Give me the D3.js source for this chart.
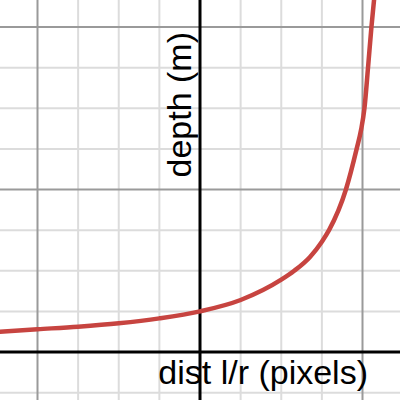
<!DOCTYPE html>
<meta charset="utf-8">
<head>
  <style>
    body { margin: 0; background: #fff; }
    .minor { stroke: #dcdcdc; stroke-width: 2px; }
    .major { stroke: #9a9a9a; stroke-width: 2px; }
    .axis-line { stroke: #000; stroke-width: 3px; }
    .label { font: 34px "Liberation Sans", Arial, sans-serif; fill: #000; }
  </style>
</head>
<body>
  <script src="https://d3js.org/d3.v7.min.js"></script>
  <div id="chart"></div>
  <script>
    var width = 400,
      height = 400;

    // curve (x: dist, y: depth), one major grid unit = 1
    var distVals = [-1.231, -1.0, -0.75, -0.5, -0.25, 0, 0.25, 0.5, 0.58, 0.677, 0.75, 0.794, 0.898, 0.964, 0.991, 1.012, 1.034, 1.055, 1.071, 1.079];
    var depthVals = [0.125, 0.140, 0.156, 0.177, 0.207, 0.25, 0.32, 0.445, 0.5, 0.585, 0.679, 0.75, 1.0, 1.25, 1.366, 1.5, 1.75, 2.0, 2.166, 2.258];

    var majorX = [-1, 0, 1];
    var majorY = [0, 1, 2];
    var minorStep = 0.25;

    var xLabel = "dist l/r (pixels)";
    var yLabel = "depth (m)";

    var unit = 162.5;
    var x = d3.scaleLinear()
      .domain([-200 / unit, 200 / unit])
      .range([0, width]);
    var y = d3.scaleLinear()
      .domain([-48 / unit, 352 / unit])
      .range([height, 0]);

    var svg = d3.select('#chart')
      .append('svg')
      .attr('width', width)
      .attr('height', height);

    var minorX = d3.range(-5, 6).map(d => d * minorStep);
    var minorY = d3.range(-1, 10).map(d => d * minorStep);

    svg.append('g').selectAll('line')
      .data(minorX.filter(d => majorX.indexOf(d) < 0))
      .enter().append('line')
      .attr('class', 'minor')
      .attr('x1', d => x(d)).attr('x2', d => x(d))
      .attr('y1', 0).attr('y2', height);

    svg.append('g').selectAll('line')
      .data(minorY.filter(d => majorY.indexOf(d) < 0))
      .enter().append('line')
      .attr('class', 'minor')
      .attr('y1', d => y(d)).attr('y2', d => y(d))
      .attr('x1', 0).attr('x2', width);

    svg.append('g').selectAll('line')
      .data(majorX.filter(d => d != 0))
      .enter().append('line')
      .attr('class', 'major')
      .attr('x1', d => x(d)).attr('x2', d => x(d))
      .attr('y1', 0).attr('y2', height);

    svg.append('g').selectAll('line')
      .data(majorY.filter(d => d != 0))
      .enter().append('line')
      .attr('class', 'major')
      .attr('y1', d => y(d)).attr('y2', d => y(d))
      .attr('x1', 0).attr('x2', width);

    // axes
    svg.append('line').attr('class', 'axis-line')
      .attr('x1', 0).attr('x2', width)
      .attr('y1', y(0)).attr('y2', y(0));
    svg.append('line').attr('class', 'axis-line')
      .attr('x1', x(0)).attr('x2', x(0))
      .attr('y1', 0).attr('y2', height);

    var pts = distVals.map((d, i) => [d, depthVals[i]]);
    var line = d3.line()
      .x(d => x(d[0]))
      .y(d => y(d[1]))
      .curve(d3.curveMonotoneX);

    svg.append('path')
      .datum(pts)
      .attr('d', line)
      .attr('fill', 'none')
      .attr('stroke', '#c74440')
      .attr('stroke-width', 4.5)
      .attr('stroke-linecap', 'round');

    svg.append('text')
      .attr('class', 'label')
      .attr('x', 368)
      .attr('y', 384)
      .attr('text-anchor', 'end')
      .text(xLabel);

    svg.append('text')
      .attr('class', 'label')
      .attr('transform', 'translate(191,32) rotate(-90)')
      .attr('text-anchor', 'end')
      .text(yLabel);
  </script>
</body>
